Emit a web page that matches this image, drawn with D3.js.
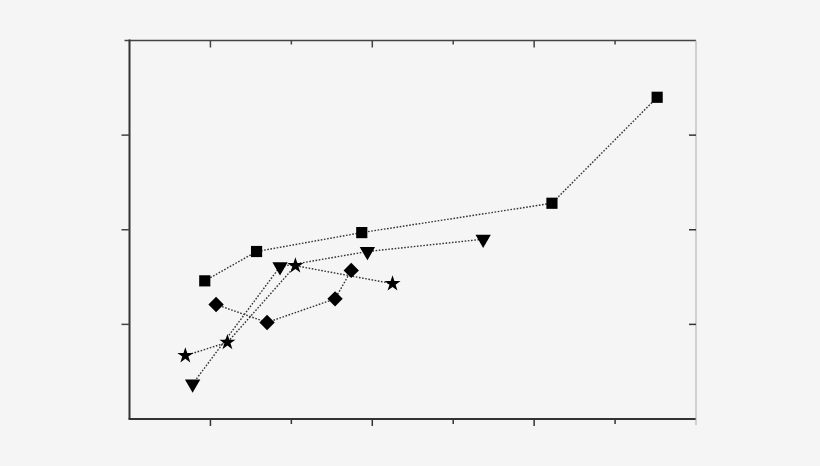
<!DOCTYPE html>
<html>
<head>
<meta charset="utf-8">
<script src="https://cdn.jsdelivr.net/npm/d3@7"></script>
<style>
  html, body { margin: 0; padding: 0; background: #f5f5f5; }
  svg { display: block; }
</style>
</head>
<body>
<div id="chart"></div>
<script>
// values (no tick labels are shown in the original)
var squareX   = [0.93, 1.57, 2.87, 5.22, 6.52];
var squareY   = [1.46, 1.77, 1.97, 2.28, 3.40];
var triangleX = [0.78, 1.86, 2.94, 4.37];
var triangleY = [0.37, 1.61, 1.77, 1.90];
var starX     = [0.69, 1.21, 2.05, 3.25];
var starY     = [0.67, 0.81, 1.62, 1.43];
var diamondX  = [1.07, 1.70, 2.54, 2.74];
var diamondY  = [1.21, 1.02, 1.27, 1.57];

var xTicks = [1, 2, 3, 4, 5, 6];
var xMajor = [1, 3, 5];
var yTicks = [1, 2, 3];

var W = 820, H = 466;
var margin = {left: 129.5, right: 124, top: 40.5, bottom: 47};

var svg = d3.select("#chart").append("svg")
  .attr("width", W)
  .attr("height", H);

svg.append("rect")
  .attr("width", W).attr("height", H)
  .attr("fill", "#f5f5f5");

var x = d3.scaleLinear().domain([0, 7]).range([margin.left, W - margin.right]);
var y = d3.scaleLinear().domain([0, 4]).range([H - margin.bottom, margin.top]);

function tickLen(d, big, small) { return xMajor.indexOf(d) >= 0 ? big : small; }

// bottom axis, ticks out
var gBottom = svg.append("g")
  .attr("transform", "translate(0," + y(0) + ")");
gBottom.append("line")
  .attr("x1", x(0) - 1).attr("x2", x(7))
  .attr("stroke", "#333").attr("stroke-width", 2);
gBottom.selectAll(".tick").data(xTicks).enter().append("line")
  .attr("x1", function(d){return x(d);})
  .attr("x2", function(d){return x(d);})
  .attr("y1", 0)
  .attr("y2", function(d){return tickLen(d, 7, 5);})
  .attr("stroke", "#333").attr("stroke-width", 1.5);
gBottom.append("line")
  .attr("x1", x(7)).attr("x2", x(7)).attr("y1", 0).attr("y2", 6)
  .attr("stroke", "#aaa").attr("stroke-width", 1);

// top axis, ticks in
var gTop = svg.append("g")
  .attr("transform", "translate(0," + y(4) + ")");
gTop.append("line")
  .attr("x1", x(0) - 5).attr("x2", x(7))
  .attr("stroke", "#444").attr("stroke-width", 1.5);
gTop.selectAll(".tick").data(xTicks).enter().append("line")
  .attr("x1", function(d){return x(d);})
  .attr("x2", function(d){return x(d);})
  .attr("y1", 0)
  .attr("y2", function(d){return tickLen(d, 7, 4);})
  .attr("stroke", "#444").attr("stroke-width", 1.5);

// left axis, ticks out
var gLeft = svg.append("g")
  .attr("transform", "translate(" + x(0) + ",0)");
gLeft.append("line")
  .attr("y1", y(0)).attr("y2", y(4) - 1)
  .attr("stroke", "#333").attr("stroke-width", 2);
gLeft.selectAll(".tick").data(yTicks).enter().append("line")
  .attr("x1", -8).attr("x2", 0)
  .attr("y1", function(d){return y(d);})
  .attr("y2", function(d){return y(d);})
  .attr("stroke", "#444").attr("stroke-width", 1.5);

// right axis, ticks in
var gRight = svg.append("g")
  .attr("transform", "translate(" + x(7) + ",0)");
gRight.append("line")
  .attr("y1", y(0)).attr("y2", y(4))
  .attr("stroke", "#aaa").attr("stroke-width", 1);
gRight.selectAll(".tick").data(yTicks).enter().append("line")
  .attr("x1", -7).attr("x2", 0)
  .attr("y1", function(d){return y(d);})
  .attr("y2", function(d){return y(d);})
  .attr("stroke", "#333").attr("stroke-width", 1.5);

var series = [
  {xs: squareX,   ys: squareY,   type: d3.symbolSquare,   size: 125, rot: 0},
  {xs: triangleX, ys: triangleY, type: d3.symbolTriangle, size: 102, rot: 180},
  {xs: starX,     ys: starY,     type: d3.symbolStar,     size: 80,  rot: 0},
  {xs: diamondX,  ys: diamondY,  type: d3.symbolSquare,   size: 118, rot: 45}
];

var line = d3.line()
  .x(function(d){return x(d[0]);})
  .y(function(d){return y(d[1]);});

series.forEach(function(s){
  var pts = s.xs.map(function(v, i){return [v, s.ys[i]];});
  svg.append("path")
    .attr("d", line(pts))
    .attr("fill", "none")
    .attr("stroke", "#333")
    .attr("stroke-width", 1.4)
    .attr("stroke-dasharray", "1.6,1.6");
});

series.forEach(function(s){
  var pts = s.xs.map(function(v, i){return [v, s.ys[i]];});
  svg.selectAll(null).data(pts).enter().append("path")
    .attr("d", d3.symbol().type(s.type).size(s.size))
    .attr("transform", function(d){
      return "translate(" + x(d[0]) + "," + y(d[1]) + ") rotate(" + s.rot + ")";
    })
    .attr("fill", "#000");
});
</script>
</body>
</html>
